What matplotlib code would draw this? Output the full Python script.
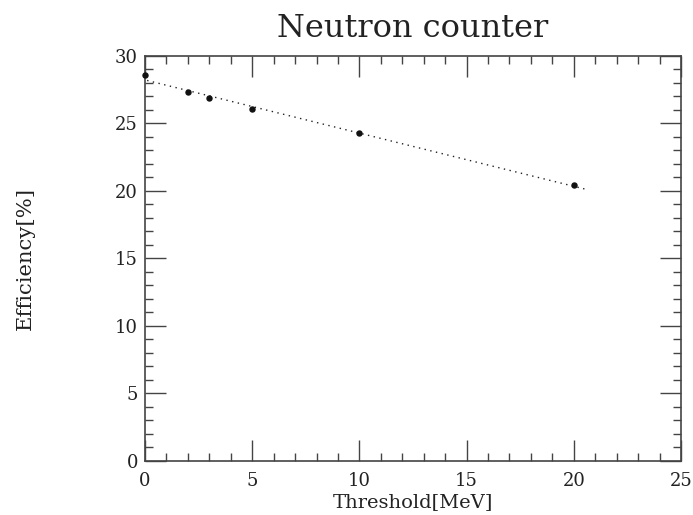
import numpy as np
import matplotlib.pyplot as plt
from matplotlib.ticker import MultipleLocator

# threshold [MeV] vs efficiency [%]
threshold = [0, 2, 3, 5, 10, 20]
efficiency = [28.6, 27.33, 26.9, 26.07, 24.26, 20.44]

plt.rcParams['font.family'] = ['DejaVu Serif']

fig = plt.figure(figsize=(6.93, 5.15), dpi=100)
ax = fig.add_axes([0.2092, 0.1049, 0.7735, 0.7864])

# linear fit drawn as dotted line
coef = np.polyfit(threshold, efficiency, 1)
xf = np.linspace(0.1, 20.6, 50)
ax.plot(xf, np.polyval(coef, xf), ls=(0, (1, 3.2)), color='#222222', lw=1.0)
ax.plot(threshold, efficiency, 'o', color='#111111', ms=3.6, clip_on=False, zorder=3)

ax.set_xlim(0, 25)
ax.set_ylim(0, 30)
ax.xaxis.set_major_locator(MultipleLocator(5))
ax.xaxis.set_minor_locator(MultipleLocator(1))
ax.yaxis.set_major_locator(MultipleLocator(5))
ax.yaxis.set_minor_locator(MultipleLocator(1))

for s in ax.spines.values():
    s.set_linewidth(1.2)
    s.set_color('#444444')
ax.tick_params(which='both', direction='in', top=True, right=True,
               color='#444444', width=1.0, labelcolor='#222222', labelsize=13)
ax.tick_params(which='major', length=15)
ax.tick_params(which='minor', length=6)
ax.tick_params(axis='x', which='major', pad=8)
ax.tick_params(axis='y', which='major', pad=5)

ax.set_xlabel('Threshold[MeV]', fontsize=14, color='#222222', labelpad=2)
ax.set_ylabel('Efficiency[%]', fontsize=15.2, color='#222222', labelpad=58)
ax.set_title('Neutron counter', fontsize=23, color='#222222', pad=14)

fig.savefig('out.png', dpi=100)
